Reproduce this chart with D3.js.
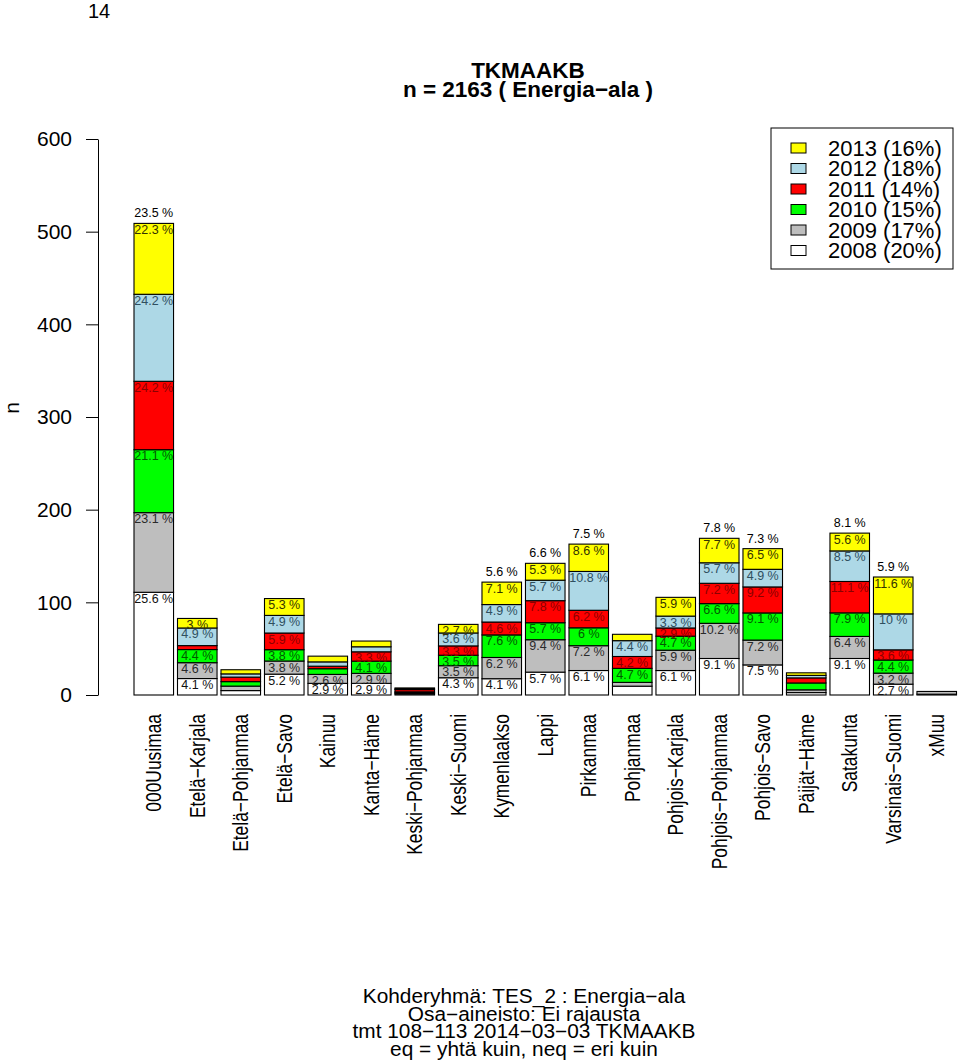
<!DOCTYPE html>
<html><head><meta charset="utf-8">
<script src="https://cdn.jsdelivr.net/npm/d3@7"></script>
<style>
body{margin:0;background:#fff}
text{font-family:"Liberation Sans",Arial,Helvetica,sans-serif;fill:#000}
</style></head>
<body><svg id="c" width="960" height="1060"></svg>
<script>
(function(){
// ---- data ----
const categories = ["000Uusimaa","Etelä−Karjala","Etelä−Pohjanmaa","Etelä−Savo","Kainuu","Kanta−Häme","Keski−Pohjanmaa","Keski−Suomi","Kymenlaakso","Lappi","Pirkanmaa","Pohjanmaa","Pohjois−Karjala","Pohjois−Pohjanmaa","Pohjois−Savo","Päijät−Häme","Satakunta","Varsinais−Suomi","xMuu"];
const years = ["2008","2009","2010","2011","2012","2013"];
const yearTotals = [433, 372, 322, 305, 388, 343];
// share (%) of each year's respondents by region
const pct2008 = [25.6, 4.1, 1.1, 5.2, 2.9, 2.9, 0.3, 4.3, 4.06, 5.7, 6.1, 2.2, 6.1, 9.1, 7.5, 0.6, 9.1, 2.7, 0.2];
const pct2009 = [23.1, 4.6, 1.3, 3.8, 2.6, 2.9, 0.3, 3.5, 6.16, 9.4, 7.2, 1.1, 5.9, 10.2, 7.2, 0.8, 6.4, 3.2, 0.8];
const pct2010 = [21.1, 4.4, 1.5, 3.8, 1.9, 4.1, 0.3, 3.5, 7.56, 5.7, 6.0, 4.7, 4.7, 6.6, 9.1, 2.3, 7.9, 4.4, 0.0];
const pct2011 = [24.2, 1.4, 1.6, 5.9, 0.9, 3.3, 0.8, 3.3, 4.56, 7.8, 6.2, 4.2, 2.9, 7.2, 9.2, 1.8, 11.1, 3.6, 0.0];
const pct2012 = [24.2, 4.9, 0.9, 4.9, 1.2, 1.4, 0.2, 3.6, 4.86, 5.7, 10.8, 4.4, 3.3, 5.7, 4.9, 0.7, 8.5, 10.0, 0.0];
const pct2013 = [22.3, 3.0, 1.3, 5.3, 1.8, 1.8, 0.3, 2.7, 7.06, 5.3, 8.6, 2.0, 5.9, 7.7, 6.5, 0.8, 5.6, 11.6, 0.0];
const yTicks = [0, 100, 200, 300, 400, 500, 600];
const fills = ["#ffffff","#bebebe","#00ff00","#ff0000","#add8e6","#ffff00"];
const labelCols = ["#111111","#2a2a2a","#005a00","#8b0000","#2f4f5f","#333300"];
const titleLines = ["TKMAAKB", "n = 2163 ( Energia−ala )"];
const footLines = ["Kohderyhmä:  TES_2 : Energia−ala", "Osa−aineisto:  Ei rajausta", "tmt 108−113 2014−03−03 TKMAAKB", "eq = yhtä kuin, neq = eri kuin"];

const pctSeries = [pct2008, pct2009, pct2010, pct2011, pct2012, pct2013];
const grand = d3.sum(yearTotals);
const fmt = v => String(+v.toFixed(1));

const svg = d3.select("#c");
const y = d3.scaleLinear().domain([0, 600]).range([695, 139]);
const x = d3.scaleBand().domain(categories).range([134, 956.5]).paddingInner(0.0909).paddingOuter(0);

const rows = categories.map((c, i) => {
  const r = {cat: c};
  years.forEach((yr, j) => { r[yr] = pctSeries[j][i] * yearTotals[j] / 100; });
  return r;
});
const stacked = d3.stack().keys(years)(rows);

svg.append("text").attr("x", 99).attr("y", 18).attr("text-anchor", "middle").style("font-size", "20px").text("14");

titleLines.forEach((t, i) => svg.append("text").attr("x", 528).attr("y", 78 + i * 19)
  .attr("text-anchor", "middle").style("font-size", "22.5px").style("font-weight", "bold").text(t));

const ax = svg.append("g").attr("transform", "translate(98,0)")
  .call(d3.axisLeft(y).tickValues(yTicks).tickSize(12).tickSizeOuter(0).tickPadding(14).tickFormat(d3.format("d")));
ax.select(".domain").attr("stroke", "#000");
ax.selectAll(".tick line").attr("stroke", "#000");
ax.selectAll(".tick text").style("font-size", "21px").style("font-family", '"Liberation Sans",Arial,sans-serif').attr("fill", "#000");

svg.append("text").attr("transform", "translate(19,408) rotate(-90)").attr("text-anchor", "middle")
  .style("font-size", "21px").text("n");

const g = svg.append("g");
stacked.forEach((layer, j) => {
  g.selectAll(null).data(layer).enter().append("rect")
    .attr("x", d => x(d.data.cat)).attr("width", x.bandwidth())
    .attr("y", d => y(d[1])).attr("height", d => y(d[0]) - y(d[1]))
    .attr("fill", fills[j]).attr("stroke", "#000").attr("stroke-width", 1.1);
});
stacked.forEach((layer, j) => {
  g.selectAll(null).data(layer.map((d, i) => ({d, p: pctSeries[j][i]})).filter(o => o.p >= 2.5)).enter().append("text")
    .attr("x", o => x(o.d.data.cat) + x.bandwidth() / 2).attr("y", o => y(o.d[1]) + 10.5)
    .attr("text-anchor", "middle").style("font-size", "12.5px").style("fill", labelCols[j])
    .text(o => fmt(o.p) + " %");
});
const topLayer = stacked[stacked.length - 1];
g.selectAll(null).data(topLayer.map(d => ({d, p: d[1] / grand * 100})).filter(o => o.p >= 5)).enter().append("text")
  .attr("x", o => x(o.d.data.cat) + x.bandwidth() / 2).attr("y", o => y(o.d[1]) - 6)
  .attr("text-anchor", "middle").style("font-size", "12.5px").text(o => fmt(o.p) + " %");

// category labels (narrow, vertical)
svg.append("g").selectAll("text").data(categories).enter().append("text")
  .attr("transform", d => `translate(${x(d) + x.bandwidth() / 2 + 7.5},714) rotate(-90) scale(0.81,1)`)
  .attr("text-anchor", "end").style("font-size", "21.5px").text(d => d);

const lg = svg.append("g");
lg.append("rect").attr("x", 771).attr("y", 128).attr("width", 182).attr("height", 141)
  .attr("fill", "#fff").attr("stroke", "#000").attr("stroke-width", 1);
const legendYears = years.slice().reverse();
legendYears.forEach((yr, i) => {
  const j = years.indexOf(yr);
  const cy = 148 + i * 20.5;
  lg.append("rect").attr("x", 791).attr("y", cy - 5).attr("width", 15).attr("height", 10)
    .attr("fill", fills[j]).attr("stroke", "#000").attr("stroke-width", 1);
  lg.append("text").attr("x", 828).attr("y", cy).attr("dy", "0.36em").style("font-size", "22px")
    .text(`${yr} (${Math.round(yearTotals[j] / grand * 100)}%)`);
});

footLines.forEach((t, i) => svg.append("text")
  .attr("transform", `translate(524,${1003 + i * 17.5}) scale(1.07,1)`)
  .attr("text-anchor", "middle").style("font-size", "19.5px").text(t));
})();
</script></body></html>
